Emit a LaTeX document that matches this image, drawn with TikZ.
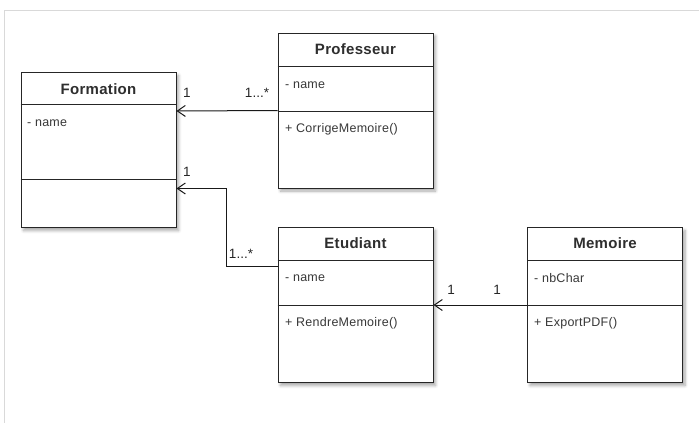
\documentclass[tikz,border=0pt]{standalone}
\usepackage{fontspec}
\setmainfont{Liberation Sans}
\newfontfamily\titlefont[LetterSpace=2]{Liberation Sans}
\newfontfamily\memberfont[LetterSpace=2]{Liberation Sans}
\usetikzlibrary{arrows.meta,shadows,shadows.blur,calc}
\tikzset{
  classbox/.style={draw=black!85, line width=1pt, fill=white, inner sep=0pt,
    blur shadow={shadow blur steps=6, shadow xshift=2.5pt, shadow yshift=-3pt, shadow opacity=35, shadow blur radius=3pt}},
  classtitle/.style={font=\titlefont\bfseries\fontsize{15}{17}\selectfont, text=black!82},
  member/.style={font=\memberfont\fontsize{12.5}{14}\selectfont, anchor=west, text=black!78, inner sep=0pt},
  divider/.style={draw=black!85, line width=1pt},
  assoc/.style={draw=black!90, line width=1pt, -{Straight Barb[length=8pt,width=11pt,line width=1pt]}},
  mult/.style={font=\fontsize{13.5}{15}\selectfont, text=black!85, inner sep=0pt},
}
\begin{document}
\begin{tikzpicture}[x=1pt,y=-1pt]
\useasboundingbox (0,0) rectangle (699,423);
% page frame
\draw[black!15, line width=0.8pt] (699,10.5) -- (4.5,10.5) -- (4.5,423);

% Formation
\node[classbox, minimum width=155pt, minimum height=155pt] (formation) at (98.5,150) {};
\node[classtitle] (formationT) at (98.5,89) {Formation};
\draw[divider] ($(formation.north west)+(0,32)$) -- ($(formation.north east)+(0,32)$);
\draw[divider] ($(formation.north west)+(0,107.5)$) -- ($(formation.north east)+(0,107.5)$);
\node[member] (formationA) at (27,123) {- name};

% Professeur
\node[classbox, minimum width=155pt, minimum height=155pt] (prof) at (355.5,110.5) {};
\node[classtitle] (profT) at (355.5,49.5) {Professeur};
\draw[divider] ($(prof.north west)+(0,33.5)$) -- ($(prof.north east)+(0,33.5)$);
\draw[divider] ($(prof.north west)+(0,78.5)$) -- ($(prof.north east)+(0,78.5)$);
\node[member] (profA) at (285,85) {- name};
\node[member] (profM) at (285,129) {+ CorrigeMemoire()};

% Etudiant
\node[classbox, minimum width=155pt, minimum height=155pt] (etud) at (355.5,305) {};
\node[classtitle] (etudT) at (355.5,243.5) {Etudiant};
\draw[divider] ($(etud.north west)+(0,33)$) -- ($(etud.north east)+(0,33)$);
\draw[divider] ($(etud.north west)+(0,78.5)$) -- ($(etud.north east)+(0,78.5)$);
\node[member] (etudA) at (285,278) {- name};
\node[member] (etudM) at (285,323) {+ RendreMemoire()};

% Memoire
\node[classbox, minimum width=155pt, minimum height=155pt] (mem) at (605,305) {};
\node[classtitle] (memT) at (605,243.5) {Memoire};
\draw[divider] ($(mem.north west)+(0,33)$) -- ($(mem.north east)+(0,33)$);
\draw[divider] ($(mem.north west)+(0,78.5)$) -- ($(mem.north east)+(0,78.5)$);
\node[member] (memA) at (534,278) {- nbChar};
\node[member] (memM) at (534,323) {+ ExportPDF()};

% connectors
\coordinate (fTop) at ($(formation.north east)+(0,39)$);
\coordinate (fBot) at ($(formation.north east)+(0,116.5)$);
\coordinate (eIn) at ($(etud.north west)+(0,39.5)$);
\coordinate (bend) at (226,0);
\draw[assoc] (prof.west) -- (fTop);
\draw[assoc] (eIn) -- (bend |- eIn) -- (bend |- fBot) -- (fBot);
\draw[assoc] (mem.west) -- (etud.east);

% multiplicities
\node[mult] (m1) at (187,93) {1};
\node[mult] (m2) at (257,93) {1...*};
\node[mult] (m3) at (187,172) {1};
\node[mult] (m4) at (241,254) {1...*};
\node[mult] (m5) at (451,290) {1};
\node[mult] (m6) at (497,290) {1};
\end{tikzpicture}
\end{document}
